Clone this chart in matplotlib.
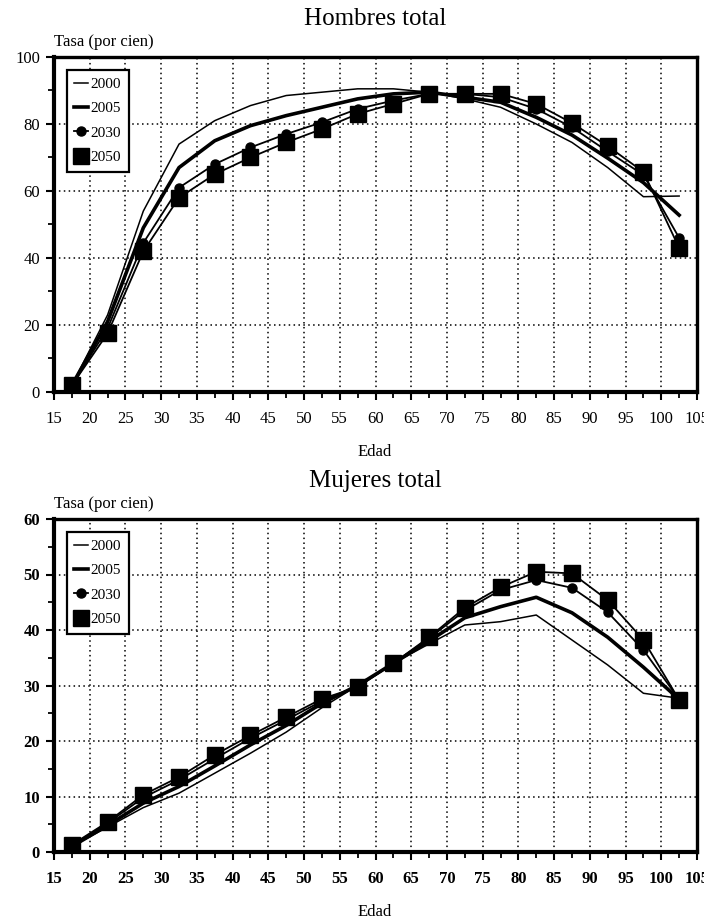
import matplotlib
matplotlib.use('Agg')
import matplotlib.pyplot as plt
from matplotlib.ticker import MultipleLocator

plt.rcParams['font.family'] = ['Liberation Serif', 'DejaVu Serif']

ages = [17.5, 22.5, 27.5, 32.5, 37.5, 42.5, 47.5, 52.5, 57.5,
        62.5, 67.5, 72.5, 77.5, 82.5, 87.5, 92.5, 97.5, 102.5]
years = ['2000', '2005', '2030', '2050']

# Hombres total
h2000 = [2, 23, 54, 74, 81, 85.5, 88.5, 89.5, 90.5, 90.5, 89.5, 87.5, 85, 80, 74.5, 67, 58.3, 58.5]
h2005 = [2, 21, 49, 67, 75, 79.5, 82.5, 85, 87.5, 89, 89.5, 88, 86.5, 82, 76.7, 69.8, 62.5, 52.8]
h2030 = [2, 19, 44.5, 61, 68, 73, 77, 80.5, 84.5, 87, 89, 89, 88, 84.5, 79, 71.8, 64.8, 46]
h2050 = [2, 17.5, 42, 58, 65, 70, 74.5, 78.5, 83, 86, 89, 89, 89, 86, 80.3, 73.4, 65.7, 43]

# Mujeres total
m2000 = [1, 4.5, 8, 10.6, 14.2, 17.8, 21.6, 26, 30, 34, 37.5, 40.9, 41.5, 42.7, 38.2, 33.7, 28.6, 27.7]
m2005 = [1, 4.8, 8.8, 11.8, 15.5, 19.3, 22.8, 26.8, 30, 34, 38, 42.2, 44.2, 45.9, 43.1, 38.7, 33.3, 27.5]
m2030 = [1.2, 5.2, 9.8, 13, 16.8, 20.5, 23.8, 27.2, 29.8, 34, 38.5, 43.5, 47.2, 49, 47.6, 43.2, 36.4, 27.5]
m2050 = [1.3, 5.4, 10.3, 13.5, 17.5, 21, 24.3, 27.6, 29.7, 34, 38.7, 44, 47.7, 50.5, 50.2, 45.4, 38.2, 27.4]

W, H = 704, 922


def px(x, y):
    # pixel position -> figure fraction
    return x / W, 1 - y / H


def draw_panel(ax, series, ymax, ymajor, yminor, bold):
    styles = [
        dict(color='black', lw=1.1),
        dict(color='black', lw=2.6),
        dict(color='black', lw=1.3, marker='o', ms=6.5),
        dict(color='black', lw=1.3, marker='s', ms=11.5),
    ]
    for vals, label, st in zip(series, years, styles):
        ax.plot(ages, vals, label=label, **st)

    ax.set_xlim(15, 105)
    ax.set_ylim(0, ymax)
    ax.xaxis.set_major_locator(MultipleLocator(5))
    ax.xaxis.set_minor_locator(MultipleLocator(2.5))
    ax.yaxis.set_major_locator(MultipleLocator(ymajor))
    ax.yaxis.set_minor_locator(MultipleLocator(yminor))
    ax.grid(True, which='major', color='black', linestyle=(0, (1, 2.2)), linewidth=1.1)
    for side in ['left', 'bottom']:
        ax.spines[side].set_linewidth(3)
    for side in ['top', 'right']:
        ax.spines[side].set_linewidth(2.4)
    weight = 'bold' if bold else 'normal'
    ax.tick_params(which='major', direction='out', length=6, width=1.5,
                   labelsize=12, pad=8)
    ax.tick_params(which='minor', direction='out', length=4, width=1.3)
    for lab in ax.get_xticklabels() + ax.get_yticklabels():
        lab.set_fontweight(weight)
    ax.tick_params(axis='y', pad=4)

    leg = ax.legend(loc='upper left', bbox_to_anchor=(0.02, 0.962), fontsize=11,
                    handlelength=0.9, handletextpad=0.15, borderpad=0.5,
                    labelspacing=0.7, fancybox=False, framealpha=1,
                    edgecolor='black', borderaxespad=0)
    leg.get_frame().set_linewidth(1.6)


fig = plt.figure(figsize=(W / 100, H / 100), dpi=100)

# top panel: x 54-697 px, y 57-392 px
l, b = px(54, 392)
r, t = px(697, 57)
ax1 = fig.add_axes([l, b, r - l, t - b])
draw_panel(ax1, [h2000, h2005, h2030, h2050], 100, 20, 10, False)

# bottom panel: y 519-852 px
l, b = px(54, 852)
r, t = px(697, 519)
ax2 = fig.add_axes([l, b, r - l, t - b])
draw_panel(ax2, [m2000, m2005, m2030, m2050], 60, 10, 5, True)

fig.text(*px(375, 19), 'Hombres total', ha='center', va='center', fontsize=18)
fig.text(*px(54, 42), 'Tasa (por cien)', ha='left', va='center', fontsize=12)
fig.text(*px(375, 452), 'Edad', ha='center', va='center', fontsize=12)

fig.text(*px(375, 481), 'Mujeres total', ha='center', va='center', fontsize=18)
fig.text(*px(54, 504), 'Tasa (por cien)', ha='left', va='center', fontsize=12)
fig.text(*px(375, 912), 'Edad', ha='center', va='center', fontsize=12)

fig.savefig('out.png', dpi=100)
